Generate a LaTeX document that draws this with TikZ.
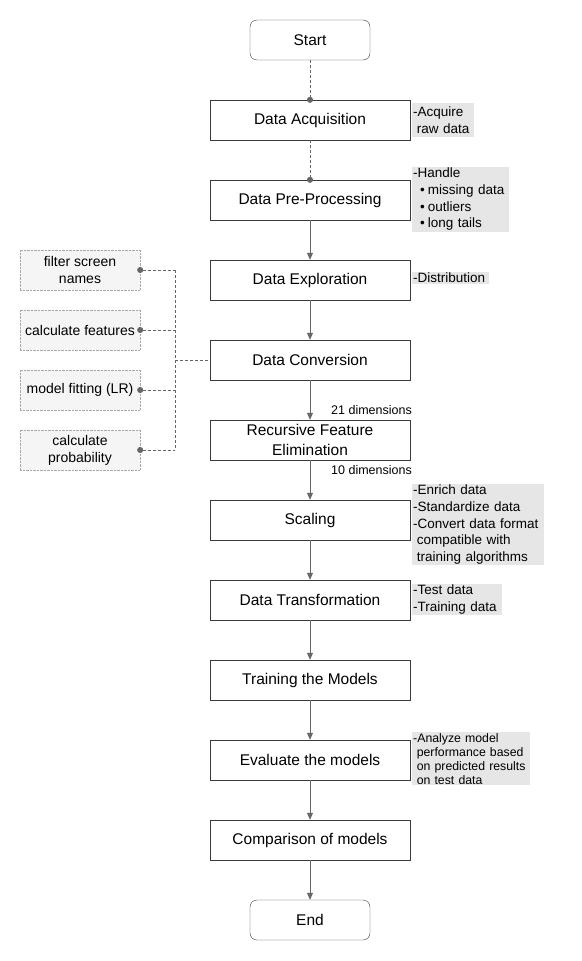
\documentclass[tikz,border=0pt]{standalone}
\usepackage{fontspec}
\setmainfont{Liberation Sans}
\usetikzlibrary{arrows.meta,positioning}

\definecolor{linegray}{HTML}{666666}
\definecolor{boxline}{HTML}{3A3A3A}
\definecolor{notefill}{HTML}{E6E6E6}
\definecolor{taskfill}{HTML}{F5F5F5}
\definecolor{taskline}{HTML}{A8A8A8}
\newcommand{\ind}{\hspace*{3.6pt}}
\newcommand{\itm}{\hspace*{7pt}\textbullet\hspace*{3pt}}

\tikzset{
  procbox/.style={draw=boxline, fill=white, minimum width=200pt, minimum height=40pt,
    align=center, font=\fontsize{15.5}{20}\selectfont},
  termbox/.style={procbox, minimum width=120pt, rounded corners=7pt},
  taskbox/.style={draw=taskline, densely dotted, fill=taskfill, minimum width=120pt,
    minimum height=40pt, align=center, font=\fontsize{14}{17}\selectfont},
  notebox/.style={fill=notefill, anchor=north west, inner sep=1pt, align=left,
    font=\fontsize{13.5}{16.6}\selectfont},
  dimlabel/.style={anchor=east, inner sep=0pt, font=\fontsize{12.5}{14}\selectfont},
  flow/.style={draw=linegray, line width=0.8pt, -{Triangle[length=7pt,width=6pt]}},
  link/.style={draw=linegray, line width=0.8pt, dashed, dash pattern=on 3pt off 2pt},
}

\begin{document}
\begin{tikzpicture}[x=1pt, y=-1pt]
      \useasboundingbox (0, 0) rectangle (581, 961);
      % main flow
      \node[termbox] (start) at (310, 40) {Start};
      \node[procbox] (acq) at (310, 120) {Data Acquisition};
      \node[procbox] (pre) at (310, 200) {Data Pre-Processing};
      \node[procbox] (exp) at (310, 280) {Data Exploration};
      \node[procbox] (conv) at (310, 360) {Data Conversion};
      \node[procbox] (rfe) at (310, 440) {Recursive Feature\\Elimination};
      \node[procbox] (scal) at (310, 520) {Scaling};
      \node[procbox] (trans) at (310, 600) {Data Transformation};
      \node[procbox] (train) at (310, 680) {Training the Models};
      \node[procbox] (eval) at (310, 760) {Evaluate the models};
      \node[procbox] (comp) at (310, 840) {Comparison of models};
      \node[termbox] (end) at (310, 920) {End};
      % notes
      \node[notebox, text width=60pt, minimum height=34pt] (acqnote) at (412, 103)
        {-Acquire\\\ind raw data};
      \node[notebox, text width=95pt] (prenote) at (412, 167)
        {-Handle\\\itm missing data\\\itm outliers\\\itm long tails};
      \node[notebox, text width=75pt] (expnote) at (412, 272) {-Distribution};
      \node[notebox, text width=130pt] (scalnote) at (412, 484)
        {-Enrich data\\-Standardize data\\-Convert data format\\\ind compatible with\\\ind training algorithms};
      \node[notebox, text width=88pt] (transnote) at (412, 584)
        {-Test data\\-Training data};
      \node[notebox, text width=116pt, font=\fontsize{12.3}{14}\selectfont] (evalnote) at (412, 732)
        {-Analyze model\\\ind performance based\\\ind on predicted results\\\ind on test data};
      \node[dimlabel] (dimin) at (412, 410) {21 dimensions};
      \node[dimlabel] (dimout) at (412, 470) {10 dimensions};
      % conversion tasks
      \node[taskbox] (filt) at (80, 270) {filter screen\\names};
      \node[taskbox] (feat) at (80, 330) {calculate features};
      \node[taskbox] (fit) at (80, 390) {model fitting (LR)};
      \node[taskbox] (prob) at (80, 450) {calculate\\probability};
      \coordinate (join) at (175, 360);
      % connectors
      \draw[link, -{Circle[length=6pt]}, shorten >=-3pt] (start) -- (acq);
      \draw[link, -{Circle[length=6pt]}, shorten >=-3pt] (acq) -- (pre);
      \draw[flow] (pre) -- (exp);
      \draw[flow] (exp) -- (conv);
      \draw[flow] (conv) -- (rfe);
      \draw[flow] (rfe) -- (scal);
      \draw[flow] (scal) -- (trans);
      \draw[flow] (trans) -- (train);
      \draw[flow] (train) -- (eval);
      \draw[flow] (eval) -- (comp);
      \draw[flow] (comp) -- (end);
      \foreach \t in {filt, feat, fit, prob}
        \draw[link, {Circle[length=6pt]}-, shorten <=-3pt] (\t.east) -- (\t.east -| join);
      \draw[link] (filt.east -| join) -- (prob.east -| join);
      \draw[link] (join) -- (conv);
    \end{tikzpicture}
\end{document}
